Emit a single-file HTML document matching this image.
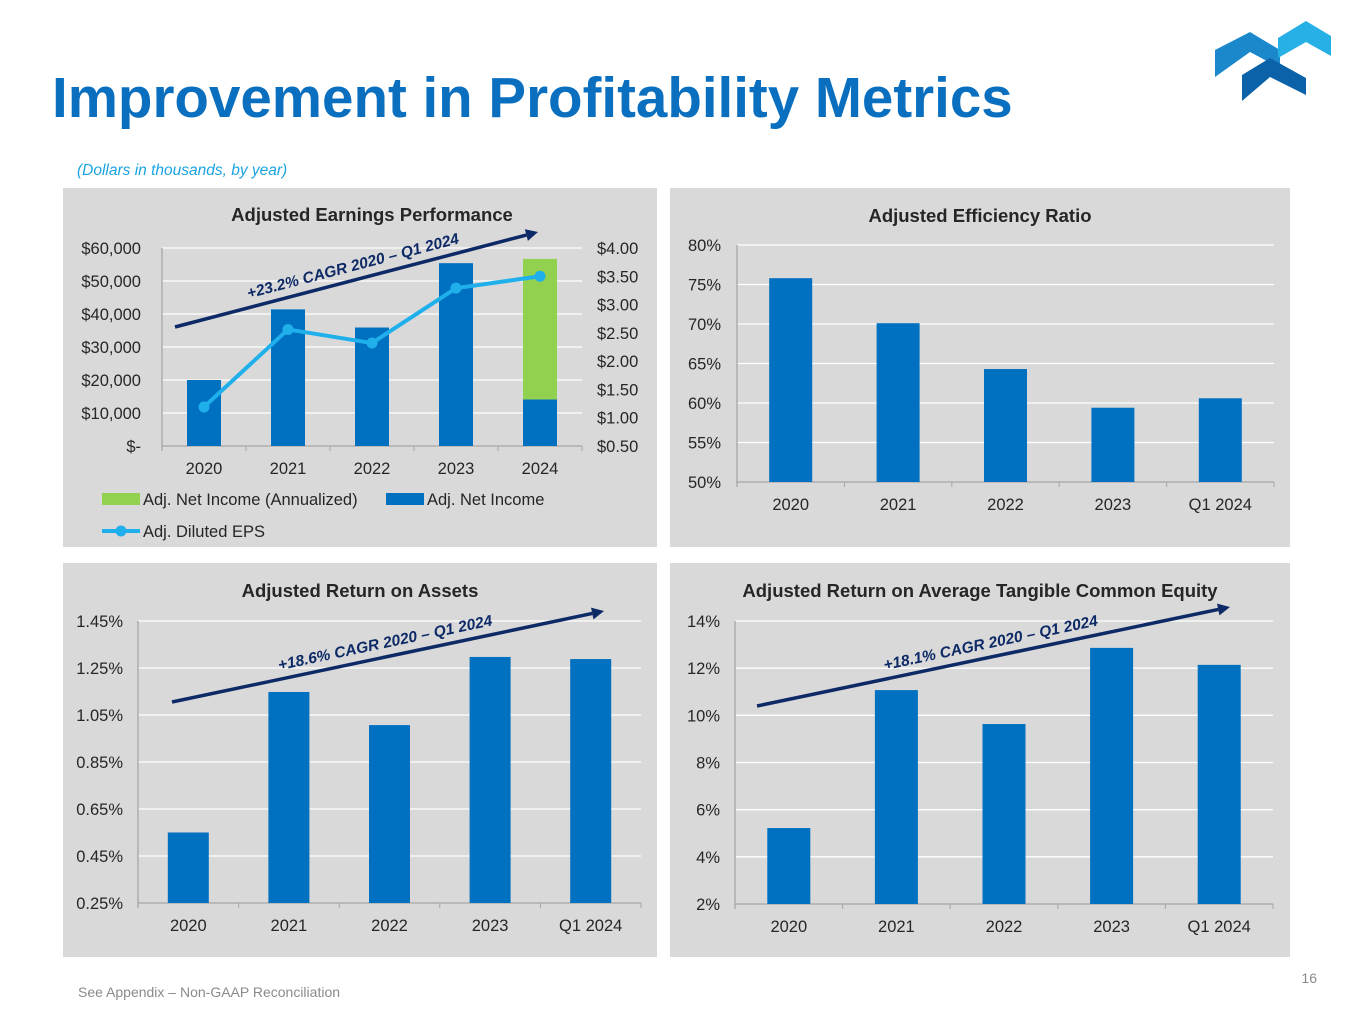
<!DOCTYPE html>
<html><head><meta charset="utf-8"><style>
body{margin:0;width:1365px;height:1024px;background:#fff;overflow:hidden;font-family:"Liberation Sans",Arial,sans-serif}
svg{display:block}
</style></head><body>
<svg id="s" width="1365" height="1024" viewBox="0 0 1365 1024" font-family="Liberation Sans, Arial, sans-serif">
<text x="52" y="117" font-size="56.5" font-weight="bold" fill="#0a6fbf">Improvement in Profitability Metrics</text>
<text x="77" y="175" font-size="15.5" font-style="italic" fill="#1aa3e0">(Dollars in thousands, by year)</text>
<g>
<polygon points="1215,50 1250,32 1280,50 1280,68 1250,52 1215,77" fill="#1b88cc"/>
<polygon points="1278,38 1306,21 1331,36 1331,56 1306,42 1278,58" fill="#27b0e6"/>
<polygon points="1242,75 1270,58 1306,78 1306,95 1270,77 1242,101" fill="#0b62a8"/>
</g>
<rect x="63" y="188" width="594" height="359" fill="#d9d9d9"/>
<rect x="670" y="188" width="620" height="359" fill="#d9d9d9"/>
<rect x="63" y="563" width="594" height="394" fill="#d9d9d9"/>
<rect x="670" y="563" width="620" height="394" fill="#d9d9d9"/>
<g id="g"></g>
<text x="78" y="997" font-size="14" fill="#8a8a8a">See Appendix – Non-GAAP Reconciliation</text>
<text x="1317" y="983" font-size="14" fill="#8a8a8a" text-anchor="end">16</text>
</svg>
<script>
const earnCats=["2020","2021","2022","2023","2024"];
const netIncome=[20000,41400,35900,55400,14100];
const annualized=[0,0,0,0,42600];
const eps=[1.19,2.56,2.32,3.29,3.50];
const earnLeftTicks=[0,10000,20000,30000,40000,50000,60000];
const earnLeftLabels=["$-","$10,000","$20,000","$30,000","$40,000","$50,000","$60,000"];
const earnRightTicks=[0.5,1,1.5,2,2.5,3,3.5,4];
const effCats=["2020","2021","2022","2023","Q1 2024"];
const effVals=[75.8,70.1,64.3,59.4,60.6];
const effTicks=[50,55,60,65,70,75,80];
const roaCats=["2020","2021","2022","2023","Q1 2024"];
const roaVals=[0.55,1.148,1.007,1.297,1.288];
const roaTicks=[0.25,0.45,0.65,0.85,1.05,1.25,1.45];
const rotceCats=["2020","2021","2022","2023","Q1 2024"];
const rotceVals=[5.22,11.07,9.63,12.86,12.14];
const rotceTicks=[2,4,6,8,10,12,14];

const NS="http://www.w3.org/2000/svg";
const G=document.getElementById('g');
function mk(tag,a,parent){const e=document.createElementNS(NS,tag);for(const k in a)e.setAttribute(k,a[k]);(parent||G).appendChild(e);return e;}
function txt(s,a){const e=mk('text',a);e.textContent=s;return e;}

function chart(o){
  const y=v=>o.y0-(o.y0-o.y1)*(v-o.min)/(o.max-o.min);
  const bw=(o.x1-o.x0)/o.cats.length;
  const cx=i=>o.x0+bw*(i+0.5);
  o.ticks.forEach((t,i)=>{
    const l=mk('line',{x1:o.x0,x2:o.x1,y1:y(t),y2:y(t),stroke:i==0?'#a6a6a6':'#ffffff','stroke-width':1.3});
    
    
    const tl=txt(o.labels[i],{x:o.x0-o.gap,y:y(t)+6,'font-size':16.5,fill:'#262626','text-anchor':'end'});
    
    
  });
  const ax=mk('line',{x1:o.x0,x2:o.x0,y1:y(o.ticks[o.ticks.length-1]),y2:o.y0+5,stroke:'#a6a6a6','stroke-width':1.3});
  
  
  for(let i=0;i<=o.cats.length;i++){
    const tk=mk('line',{x1:o.x0+bw*i,x2:o.x0+bw*i,y1:o.y0,y2:o.y0+5,stroke:'#a6a6a6'});
    
    
  }
  o.cats.forEach((c,i)=>{
    const b=mk('rect',{x:cx(i)-o.w/2,y:y(o.vals[i]),width:o.w,height:o.y0-y(o.vals[i]),fill:'#0070c0'});
    
    
    if(o.extra&&o.extra[i]>0){
      const g2=mk('rect',{x:cx(i)-o.w/2,y:y(o.vals[i]+o.extra[i]),width:o.w,height:y(o.vals[i])-y(o.vals[i]+o.extra[i]),fill:'#92d050'});
      
      
    }
    const xl=txt(c,{x:cx(i),y:o.y0+28,'font-size':16.5,fill:'#262626','text-anchor':'middle'});
    
    
  });
  const t=txt(o.title,{x:o.tx,y:o.ty,'font-size':18.5,'font-weight':'bold',fill:'#262626','text-anchor':'middle'});
  
  
  return {y,cx};
}
function arrow(x1,y1,x2,y2,label){
  const ang=Math.atan2(y2-y1,x2-x1);
  const ex=x2-12*Math.cos(ang),ey=y2-12*Math.sin(ang);
  const l=mk('line',{x1,y1,x2:ex,y2:ey,stroke:'#0d2a66','stroke-width':3.5});
  
  
  const px=-Math.sin(ang),py=Math.cos(ang);
  const h=mk('polygon',{points:`${x2},${y2} ${ex+6*px},${ey+6*py} ${ex-6*px},${ey-6*py}`,fill:'#0d2a66'});
  
  
  const mx=(x1+x2)/2,my=(y1+y2)/2, d=ang*180/Math.PI;
  const t=txt(label,{x:mx,y:my-9,'font-size':15.5,'font-weight':'bold','font-style':'italic',fill:'#0d2a66','text-anchor':'middle',transform:`rotate(${d} ${mx} ${my})`});
  
  
}

const E=chart({cats:earnCats,vals:netIncome,extra:annualized,ticks:earnLeftTicks,labels:earnLeftLabels,min:0,max:60000,x0:162,x1:582,y0:446,y1:248,w:34,gap:21,title:'Adjusted Earnings Performance',tx:372,ty:221});
const ey=v=>446-(446-248)*(v-0.5)/3.5;
earnRightTicks.forEach(t=>{
  const r=txt('$'+t.toFixed(2),{x:597,y:ey(t)+6,'font-size':16.5,fill:'#262626'});
  
  
});
const pts=eps.map((v,i)=>E.cx(i)+','+ey(v)).join(' ');
const pl=mk('polyline',{points:pts,fill:'none',stroke:'#1fb0ec','stroke-width':4});


eps.forEach((v,i)=>{
  const c=mk('circle',{cx:E.cx(i),cy:ey(v),r:5.5,fill:'#1fb0ec'});
  
  
});
arrow(175,327,538,232,'+23.2% CAGR 2020 – Q1 2024');
const lg1=mk('rect',{x:102,y:493,width:38,height:12,fill:'#92d050'});


const lt1=txt('Adj. Net Income (Annualized)',{x:143,y:505,'font-size':16.5,fill:'#262626'});


const lg2=mk('rect',{x:386,y:493,width:38,height:12,fill:'#0070c0'});


const lt2=txt('Adj. Net Income',{x:427,y:505,'font-size':16.5,fill:'#262626'});


const lg3=mk('line',{x1:102,x2:140,y1:531,y2:531,stroke:'#1fb0ec','stroke-width':4});


const lg4=mk('circle',{cx:121,cy:531,r:5.5,fill:'#1fb0ec'});


const lt3=txt('Adj. Diluted EPS',{x:143,y:537,'font-size':16.5,fill:'#262626'});



chart({cats:effCats,vals:effVals,ticks:effTicks,labels:effTicks.map(t=>t+'%'),min:50,max:80,x0:737,x1:1274,y0:482,y1:245,w:43,gap:16,title:'Adjusted Efficiency Ratio',tx:980,ty:222});
chart({cats:roaCats,vals:roaVals,ticks:roaTicks,labels:roaTicks.map(t=>t.toFixed(2)+'%'),min:0.25,max:1.45,x0:138,x1:641,y0:903,y1:621,w:41,gap:15,title:'Adjusted Return on Assets',tx:360,ty:597});
arrow(172,702,604,611,'+18.6% CAGR 2020 – Q1 2024');
chart({cats:rotceCats,vals:rotceVals,ticks:rotceTicks,labels:rotceTicks.map(t=>t+'%'),min:2,max:14,x0:735,x1:1273,y0:904,y1:621,w:43,gap:15,title:'Adjusted Return on Average Tangible Common Equity',tx:980,ty:597});
arrow(757,706,1230,607,'+18.1% CAGR 2020 – Q1 2024');
</script>
</body></html>
